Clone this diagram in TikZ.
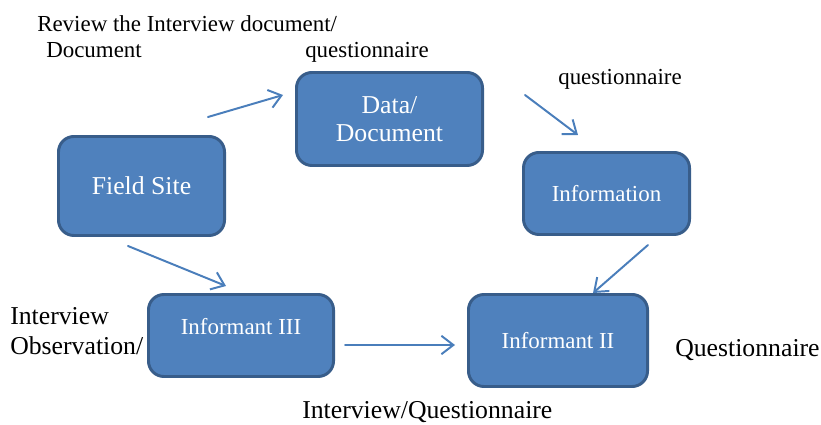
\documentclass[tikz,border=0pt]{standalone}
\usepackage{fontspec}
\setmainfont{Liberation Serif}
\usepackage{tikz}
\usetikzlibrary{arrows.meta}
\usepackage{xcolor}
\definecolor{boxfill}{HTML}{4F81BD}
\definecolor{boxline}{HTML}{385D8A}
\definecolor{arrowc}{HTML}{4A7EBB}

\begin{document}
\begin{tikzpicture}[x=0.025cm,y=-0.025cm,>={Straight Barb[length=3mm,width=4.6mm]},line cap=round,
  box/.style={draw=boxline,fill=boxfill,line width=2.1pt,rounded corners=11pt,text=white,align=center},
  big/.style={font=\fontsize{18.3}{20}\selectfont},
  small/.style={font=\fontsize{16.3}{18}\selectfont},
  lbl/.style={anchor=base west,inner sep=0pt}]
\useasboundingbox (0,0) rectangle (821,425);
% boxes
\node[box,big,minimum width=4.15cm,minimum height=2.475cm] (field) at (141.5,186) {Field Site};
\node[box,big,minimum width=4.65cm,minimum height=2.325cm,font=\fontsize{18.3}{20}\selectfont] (data) at (389.5,119) {Data/\\[-0.2pt]Document};
\node[box,small,minimum width=4.15cm,minimum height=2.05cm] (info) at (606.5,193.5) {Information};
\node[box,small,minimum width=4.625cm,minimum height=2.05cm] (inf3) at (241,335.5) {\raisebox{12.8pt}{Informant III}};
\node[box,small,minimum width=4.475cm,minimum height=2.3cm] (inf2) at (558,340.5) {Informant II};
% arrow ends
\coordinate (a1) at (208,117); \coordinate (a2) at (283,95);
\coordinate (b1) at (525,95);  \coordinate (b2) at (578,135);
\coordinate (c1) at (648,245); \coordinate (c2) at (593,293);
\coordinate (d1) at (128,246); \coordinate (d2) at (226,286);
\coordinate (e1) at (345,345); \coordinate (e2) at (455,345);
\draw[->,arrowc,line width=1.4pt] (a1) -- (a2);
\draw[->,arrowc,line width=1.4pt] (b1) -- (b2);
\draw[->,arrowc,line width=1.4pt] (c1) -- (c2);
\draw[->,arrowc,line width=1.4pt] (d1) -- (d2);
\draw[->,arrowc,line width=1.4pt] (e1) -- (e2);
% labels
\node[lbl,small] (rev) at (37,32) {Review the Interview document/};
\node[lbl,small] (doc) at (46,58) {Document};
\node[lbl,small] (q1) at (305,58) {questionnaire};
\node[lbl,small] (q2) at (558,85) {questionnaire};
\node[lbl,big] (iv) at (10,325) {Interview};
\node[lbl,big] (obs) at (10,355) {Observation/};
\node[lbl,big] (ivq) at (302,418) {Interview/Questionnaire};
\node[lbl,big] (q3) at (675,357) {Questionnaire};
\end{tikzpicture}
\end{document}
